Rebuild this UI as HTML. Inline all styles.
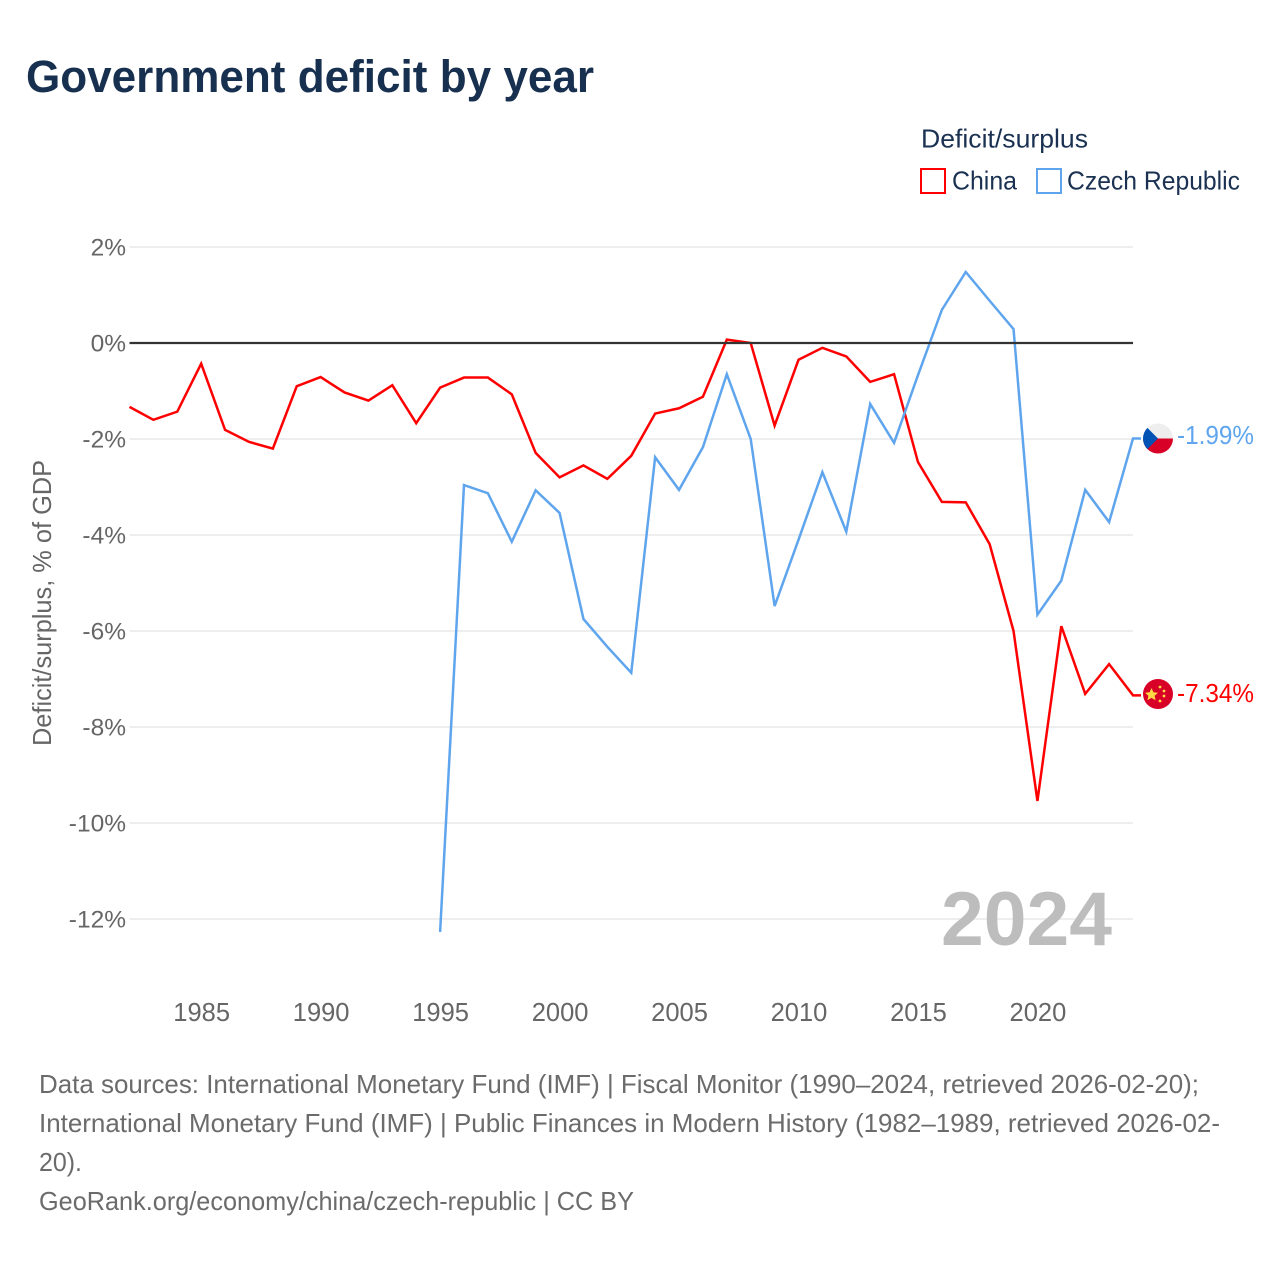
<!DOCTYPE html>
<html lang="en">
<head>
<meta charset="utf-8">
<title>Government deficit by year</title>
<style>
html,body{margin:0;padding:0;background:#fff;}
svg{display:block;font-family:"Liberation Sans",sans-serif;}
</style>
</head>
<body>
<svg id="chart" xmlns="http://www.w3.org/2000/svg" width="1280" height="1280" viewBox="0 0 1280 1280">
  <defs>
    <clipPath id="clip-cz"><circle cx="1158" cy="438.5" r="15"/></clipPath>
    <clipPath id="clip-cn"><circle cx="1158" cy="694" r="15"/></clipPath>
  </defs>
  <rect width="1280" height="1280" fill="#fff"/>
  <text x="26" y="92" font-size="45" font-weight="700" fill="#18304f" textLength="568" lengthAdjust="spacingAndGlyphs">Government deficit by year</text>

  <text x="921" y="147.5" font-size="26" fill="#1a3152" textLength="167" lengthAdjust="spacingAndGlyphs">Deficit/surplus</text>
  <rect x="921" y="169" width="24" height="24" fill="none" stroke="#ff0000" stroke-width="2"/>
  <text x="952" y="189.5" font-size="26" fill="#1a3152" textLength="65" lengthAdjust="spacingAndGlyphs">China</text>
  <rect x="1037" y="169" width="24" height="24" fill="none" stroke="#5fa5ee" stroke-width="2"/>
  <text x="1067" y="189.5" font-size="26" fill="#1a3152" textLength="173" lengthAdjust="spacingAndGlyphs">Czech Republic</text>

  <g id="grid"></g>
  <g id="y-ticks"></g>
  <g id="x-ticks"></g>
  <text transform="translate(51 603) rotate(-90)" text-anchor="middle" font-size="26" fill="#666" textLength="286" lengthAdjust="spacingAndGlyphs">Deficit/surplus, % of GDP</text>

  <text x="941" y="945" font-size="76" font-weight="700" fill="#bdbdbd" textLength="171" lengthAdjust="spacingAndGlyphs">2024</text>

  <g id="series"></g>
  <line id="zero-line" stroke="#333" stroke-width="2.2"/>

  <g clip-path="url(#clip-cz)">
    <rect x="1143" y="423.5" width="30" height="15" fill="#eeeeee"/>
    <rect x="1143" y="438.5" width="30" height="15" fill="#d80027"/>
    <polygon points="1141,421.5 1158,438.5 1141,455.5" fill="#0052b4"/>
  </g>
  <g clip-path="url(#clip-cn)">
    <rect x="1143" y="679" width="30" height="30" fill="#d80027"/>
    <polygon points="1151.5,688 1153.4,692.2 1158,692.7 1154.6,695.7 1155.6,700.2 1151.5,697.9 1147.4,700.2 1148.4,695.7 1145,692.7 1149.6,692.2" fill="#ffda44"/>
    <circle cx="1160" cy="687" r="1.4" fill="#ffda44"/>
    <circle cx="1164" cy="691" r="1.4" fill="#ffda44"/>
    <circle cx="1164" cy="696" r="1.4" fill="#ffda44"/>
    <circle cx="1160" cy="701" r="1.4" fill="#ffda44"/>
  </g>
  <text x="1177" y="444" font-size="26" fill="#5fa5ee" textLength="77" lengthAdjust="spacingAndGlyphs">-1.99%</text>
  <text x="1177" y="702" font-size="26" fill="#ff0000" textLength="77" lengthAdjust="spacingAndGlyphs">-7.34%</text>

  <g font-size="26" fill="#6b6b6b">
    <text x="39" y="1093" textLength="1160" lengthAdjust="spacingAndGlyphs">Data sources: International Monetary Fund (IMF) | Fiscal Monitor (1990–2024, retrieved 2026-02-20);</text>
    <text x="39" y="1132" textLength="1181" lengthAdjust="spacingAndGlyphs">International Monetary Fund (IMF) | Public Finances in Modern History (1982–1989, retrieved 2026-02-</text>
    <text x="39" y="1171" textLength="43" lengthAdjust="spacingAndGlyphs">20).</text>
    <text x="39" y="1210" textLength="595" lengthAdjust="spacingAndGlyphs">GeoRank.org/economy/china/czech-republic | CC BY</text>
  </g>
</svg>
<script>
const chinaYears = [1982,1983,1984,1985,1986,1987,1988,1989,1990,1991,1992,1993,1994,1995,1996,1997,1998,1999,2000,2001,2002,2003,2004,2005,2006,2007,2008,2009,2010,2011,2012,2013,2014,2015,2016,2017,2018,2019,2020,2021,2022,2023,2024];
const chinaValues = [-1.33,-1.6,-1.43,-0.43,-1.81,-2.06,-2.2,-0.9,-0.71,-1.03,-1.2,-0.88,-1.67,-0.93,-0.72,-0.72,-1.07,-2.29,-2.8,-2.55,-2.83,-2.35,-1.47,-1.36,-1.12,0.07,0.0,-1.72,-0.35,-0.1,-0.28,-0.81,-0.65,-2.48,-3.31,-3.32,-4.19,-6.0,-9.54,-5.9,-7.31,-6.69,-7.34];
const czechYears = [1995,1996,1997,1998,1999,2000,2001,2002,2003,2004,2005,2006,2007,2008,2009,2010,2011,2012,2013,2014,2015,2016,2017,2018,2019,2020,2021,2022,2023,2024];
const czechValues = [-12.27,-2.96,-3.13,-4.14,-3.07,-3.54,-5.75,-6.33,-6.87,-2.38,-3.06,-2.17,-0.65,-2.0,-5.48,-4.1,-2.69,-3.93,-1.27,-2.08,-0.67,0.69,1.48,0.88,0.29,-5.66,-4.95,-3.06,-3.73,-1.99];
const yTickValues = [2,0,-2,-4,-6,-8,-10,-12];
const xTickYears = [1985,1990,1995,2000,2005,2010,2015,2020];

const NS = 'http://www.w3.org/2000/svg';
const plotLeft = 129.5, plotRight = 1133, firstYear = 1982, lastYear = 2024;
function xScale(year) {
  return plotLeft + (year - firstYear) * (plotRight - plotLeft) / (lastYear - firstYear);
}
function yScale(value) {
  return 343 - value * 48;
}
function make(tag, attrs) {
  const el = document.createElementNS(NS, tag);
  for (const k in attrs) el.setAttribute(k, attrs[k]);
  return el;
}
const gridGroup = document.getElementById('grid');
const yTickGroup = document.getElementById('y-ticks');
yTickValues.forEach(function (v) {
  const y = yScale(v);
  if (v !== 0) {
    const line = make('line', {x1: plotLeft, x2: plotRight, y1: y, y2: y, stroke: '#e8e8e8', 'stroke-width': 1.5});
    
    
    gridGroup.appendChild(line);
  }
  const label = make('text', {x: 126, y: y + 8.5, 'text-anchor': 'end', 'font-size': 24.5, fill: '#666'});
  
  
  label.textContent = v + '%';
  yTickGroup.appendChild(label);
});
const zero = document.getElementById('zero-line');
zero.setAttribute('x1', plotLeft);
zero.setAttribute('x2', plotRight);
zero.setAttribute('y1', yScale(0));
zero.setAttribute('y2', yScale(0));

const xTickGroup = document.getElementById('x-ticks');
xTickYears.forEach(function (yr) {
  const label = make('text', {x: xScale(yr) + 0.5, y: 1021, 'text-anchor': 'middle', 'font-size': 25.5, fill: '#666'});
  
  
  label.textContent = yr;
  xTickGroup.appendChild(label);
});

function seriesPath(years, values) {
  let d = '';
  years.forEach(function (yr, i) {
    d += (i ? 'L' : 'M') + xScale(yr).toFixed(2) + ' ' + yScale(values[i]).toFixed(2);
  });
  d += 'H1141';
  return d;
}
const seriesGroup = document.getElementById('series');
const chinaLine = make('path', {d: seriesPath(chinaYears, chinaValues), fill: 'none', stroke: '#ff0000', 'stroke-width': 2.5, 'stroke-linejoin': 'miter'});


seriesGroup.appendChild(chinaLine);
const czechLine = make('path', {d: seriesPath(czechYears, czechValues), fill: 'none', stroke: '#5fa5ee', 'stroke-width': 2.5, 'stroke-linejoin': 'miter'});


seriesGroup.appendChild(czechLine);
</script>
</body>
</html>
